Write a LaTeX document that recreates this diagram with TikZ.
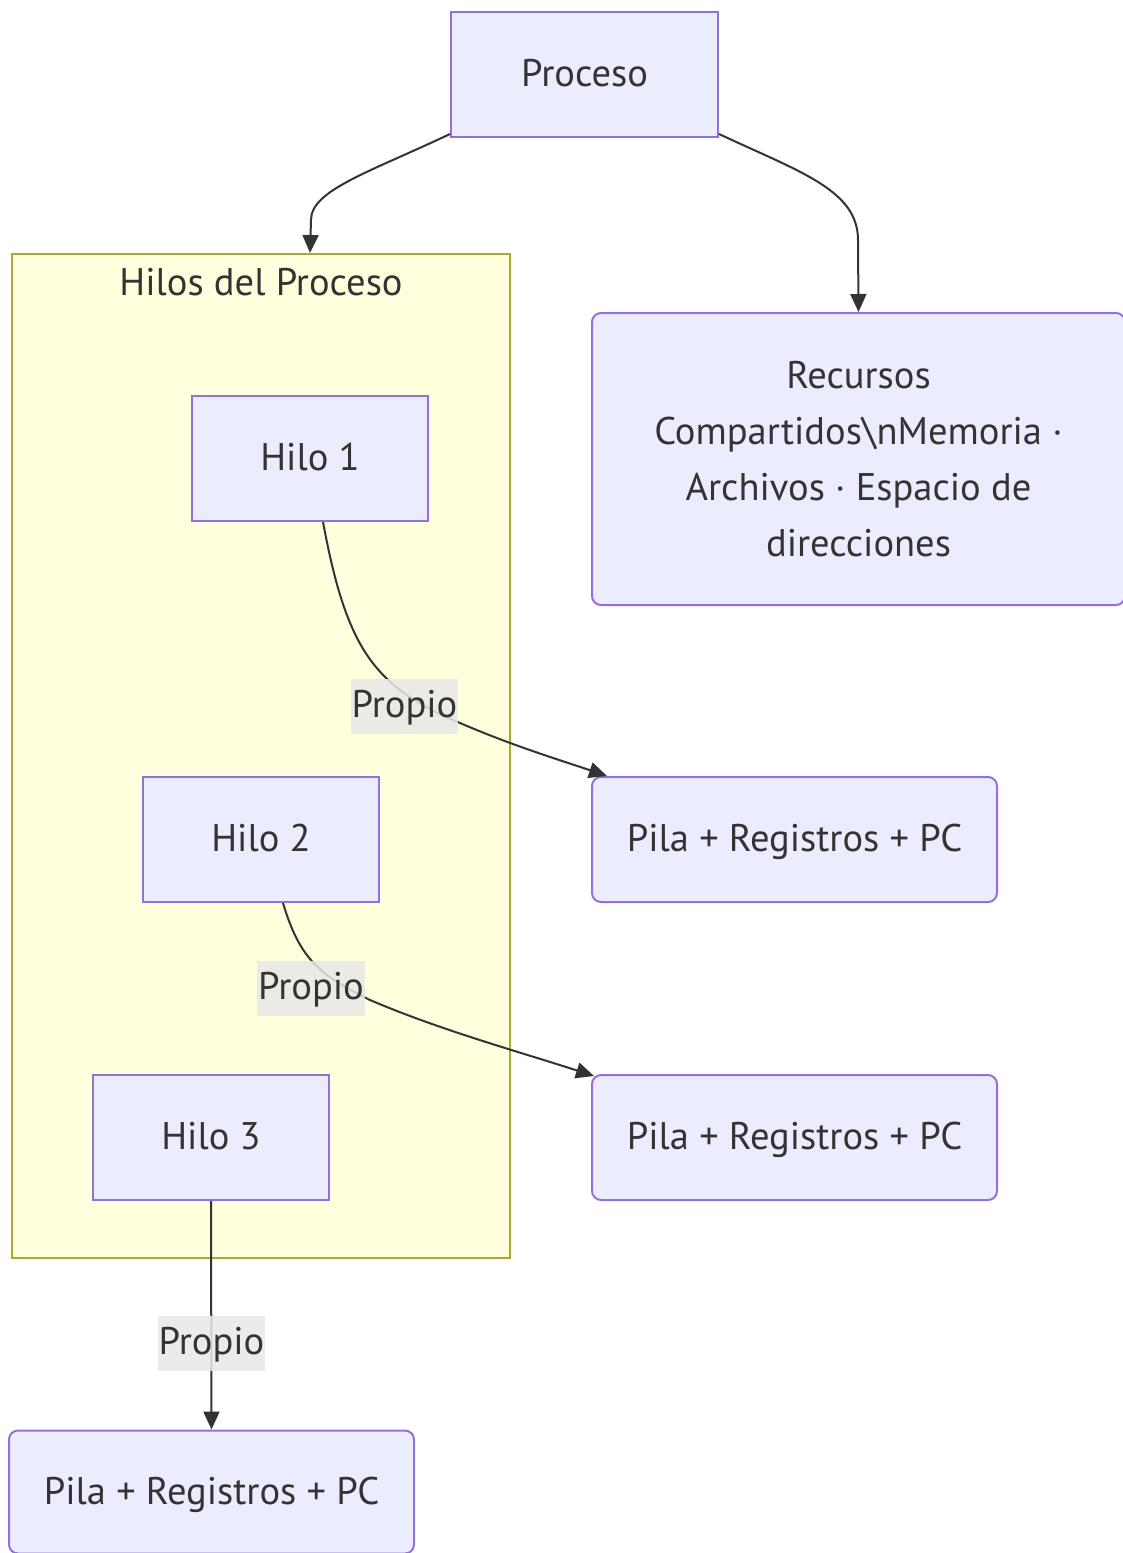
\documentclass[tikz,border=0pt]{standalone}
\usepackage{fontspec}
\setmainfont{PT Sans}
\usetikzlibrary{arrows.meta,calc}
\definecolor{nodefill}{HTML}{ECECFF}
\definecolor{nodeline}{HTML}{9370DB}
\definecolor{grpfill}{HTML}{FFFFDE}
\definecolor{grpline}{HTML}{AAAA33}
\definecolor{ink}{HTML}{333333}
\definecolor{lblfill}{HTML}{E8E8E8}
\tikzset{
  x=1pt, y=-1pt,
  every node/.style={font=\fontsize{38.5}{56}\selectfont, text=ink},
  box/.style={draw=nodeline, fill=nodefill, line width=2pt, minimum width=236pt, minimum height=125pt, inner sep=0pt, text height=29pt, text depth=5pt},
  rbox/.style={box, rounded corners=9pt},
  grp/.style={draw=grpline, fill=grpfill, line width=2pt, inner sep=0pt},
  link/.style={draw=ink, line width=2pt, -{Triangle[length=18pt,width=16pt]}},
  lbl/.style={fill=lblfill, fill opacity=0.85, text opacity=1, inner xsep=1pt, inner ysep=0pt, text height=38pt, text depth=17pt}
}
\begin{document}
\begin{tikzpicture}
\useasboundingbox (0,0) rectangle (1123,1553);
% thread group
\node[grp, minimum width=498pt, minimum height=1004pt] (grp) at (261,756) {};
\node (grptitle) at (261,282) {Hilos del Proceso};
% nodes
\node[box, minimum width=267pt] (proc) at (584.5,74.5) {Proceso};
\node[rbox, minimum width=533pt, minimum height=292pt, align=center, text height=, text depth=] (rec) at (858.5,459)
  {Recursos\\Compartidos\textbackslash nMemoria ·\\Archivos · Espacio de\\direcciones};
\node[box] (h1) at (310,458.5) {Hilo 1};
\node[box] (h2) at (261,839.5) {Hilo 2};
\node[box] (h3) at (211,1137.5) {Hilo 3};
\node[rbox, minimum width=405pt] (p1) at (794.5,839.5) {Pila + Registros + PC};
\node[rbox, minimum width=405pt] (p2) at (794.5,1137.5) {Pila + Registros + PC};
\node[rbox, minimum width=405pt, minimum height=123pt] (p3) at (211.5,1492) {Pila + Registros + PC};
% connectors from the process
\draw[link] ($(proc.south west)+(0,-4)$) .. controls (370,172) and (311,190) .. (311,220) -- (grp.north -| h1);
\draw[link] ($(proc.south east)+(0,-4)$) .. controls (800,172) and (858,190) .. (858,240) -- (rec.north);
% connectors from each thread
\draw[link] ($(h1.south)+(13,0)$) .. controls (345,640) and (370,680) .. (440,714) .. controls (500,742) and (560,760) .. ($(p1.north west)+(16,0)$);
\draw[link] ($(h2.south)+(22,0)$) .. controls (300,960) and (320,975) .. (370,1000) .. controls (440,1030) and (520,1052) .. ($(p2.north west)+(3,2)$);
\draw[link] (h3.south) -- (p3.north);
% edge labels
\node[lbl] (l1) at (404.5,706.5) {Propio};
\node[lbl] (l2) at (311,988.5) {Propio};
\node[lbl] (l3) at (211.5,1343.5) {Propio};
\end{tikzpicture}
\end{document}
